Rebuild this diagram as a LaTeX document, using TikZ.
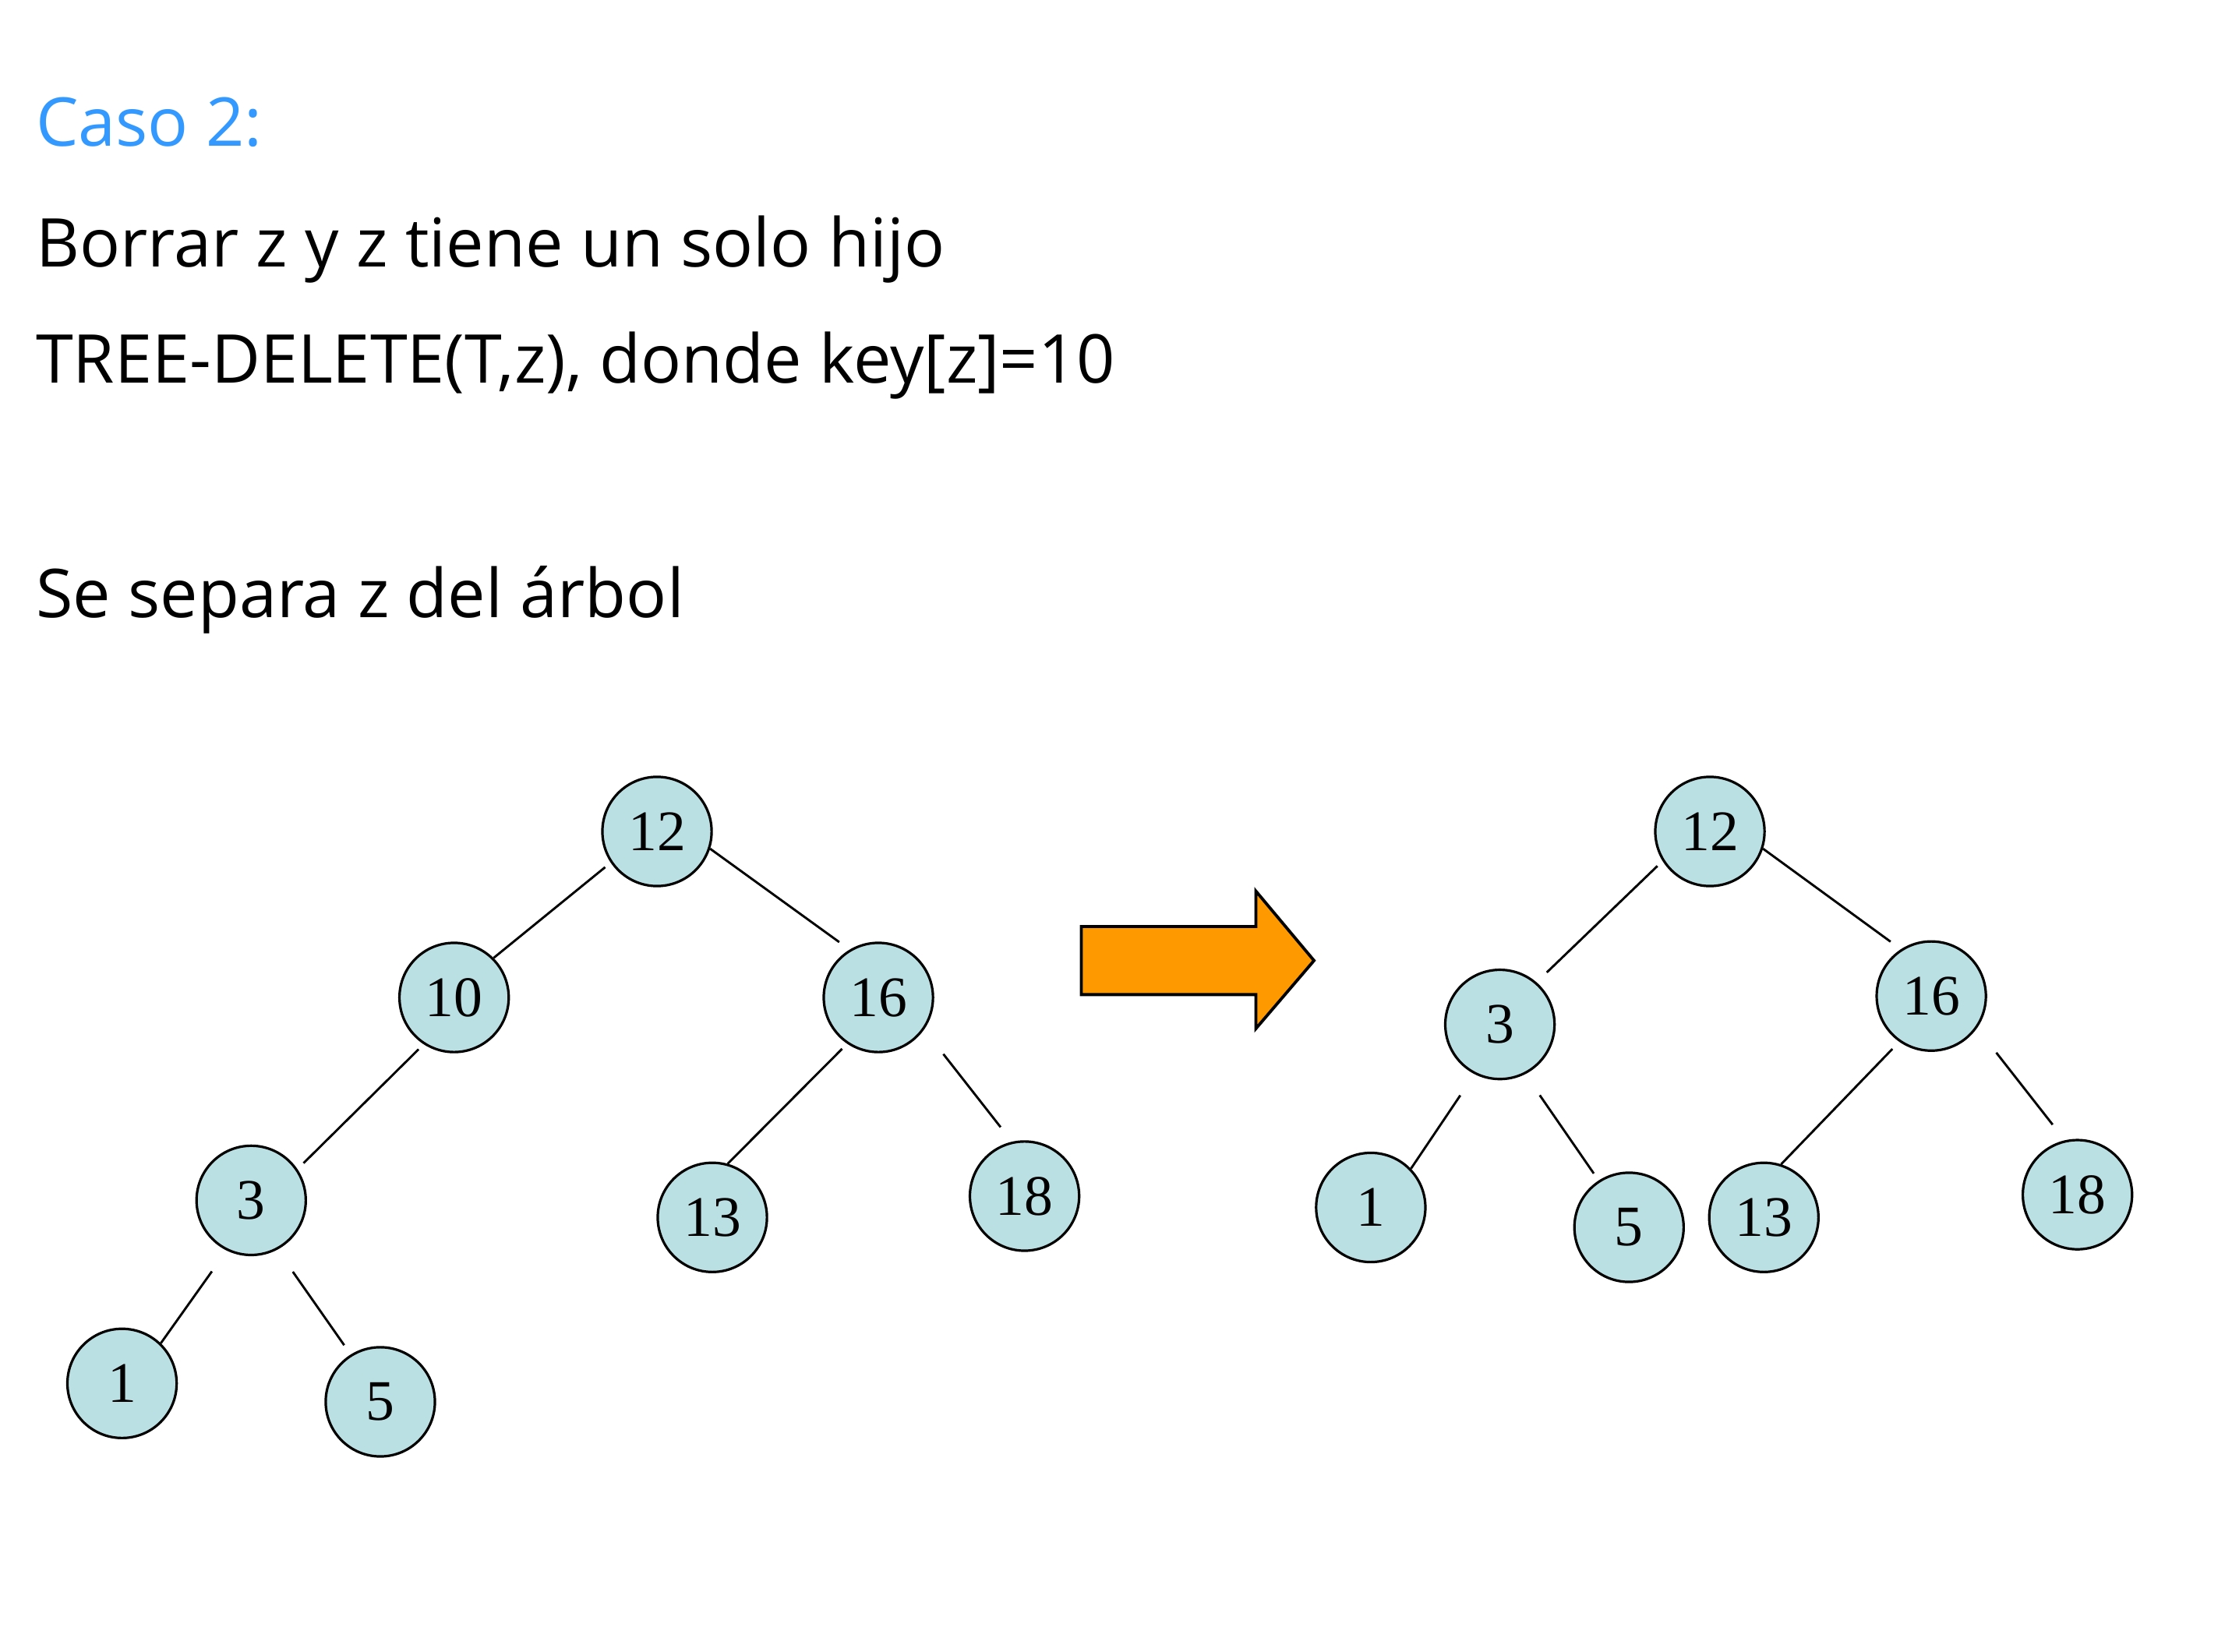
\documentclass[tikz,border=0pt]{standalone}
\usepackage{fontspec}
\setmainfont{Liberation Serif}
\newfontfamily\slidefont{Open Sans}
\usepackage{tikz}
\definecolor{casoblue}{HTML}{3399FF}
\definecolor{nodefill}{HTML}{BBE0E3}
\definecolor{arroworange}{HTML}{FF9900}
\tikzset{
  keynode/.style={circle,draw=black,fill=nodefill,line width=1pt,
                  minimum size=1.54cm,inner sep=0pt,
                  font=\fontsize{23}{23}\selectfont},
  treeedge/.style={draw=black,line width=0.9pt},
  slidetext/.style={anchor=base west,inner sep=0pt,
                    font=\slidefont\fontsize{27}{32}\selectfont},
  bigarrow/.style={draw=black,fill=arroworange,line width=1.2pt,line join=miter}
}

\begin{document}
\begin{tikzpicture}[x=0.02cm,y=-0.02cm]
  \useasboundingbox (0,0) rectangle (1568,1164);
  % texto de la diapositiva
  \node[slidetext,text=casoblue] (caso) at (25,103) {Caso 2:};
  \node[slidetext] (borrar) at (25,188) {Borrar z y z tiene un solo hijo};
  \node[slidetext] (delete) at (25,270) {TREE-DELETE(T,z), donde key[z]=10};
  \node[slidetext] (separa) at (25,435) {Se separa z del árbol};
  % nodos de los dos arboles
  \foreach \n/\k/\x/\y in {%
    l12/12/463/586, l10/10/320/703, l16/16/619/703, l3/3/177/846,
    l13/13/502/858, l18/18/722/843, l1/1/86/975, l5/5/268/988,
    r12/12/1205/586, r3/3/1057/722, r16/16/1361/702, r1/1/966/851,
    r5/5/1148/865, r13/13/1243/858, r18/18/1464/842}
    \node[keynode] (\n) at (\x,\y) {\k};
  % aristas
  \foreach \a/\sa/\b/\sb/\ga/\gb in {%
    l12/214/l10/45/0.1cm/0cm, l12/342/l16/121/0cm/0.18cm,
    l10/237/l3/34/0.1cm/0.12cm, l16/236/l13/74/0.1cm/0cm,
    l16/325/l18/103/0.44cm/0.26cm, l3/244/l1/46/0.36cm/0cm,
    l3/298/l5/122/0.38cm/0.16cm,
    r12/212/r3/49/0.1cm/0.2cm, r12/342/r16/123/0cm/0.18cm,
    r3/243/r1/44/0.36cm/0cm, r3/297/r5/123/0.36cm/0.12cm,
    r16/235/r13/72/0.14cm/0cm, r16/325/r18/103/0.44cm/0.28cm}
    \draw[treeedge,shorten <=\ga,shorten >=\gb] (\a.\sa) -- (\b.\sb);
  % flecha
  \draw[bigarrow] (762,653) -- (885,653) -- (885,628) -- (926,677)
    -- (885,725) -- (885,701) -- (762,701) -- cycle;
\end{tikzpicture}
\end{document}
